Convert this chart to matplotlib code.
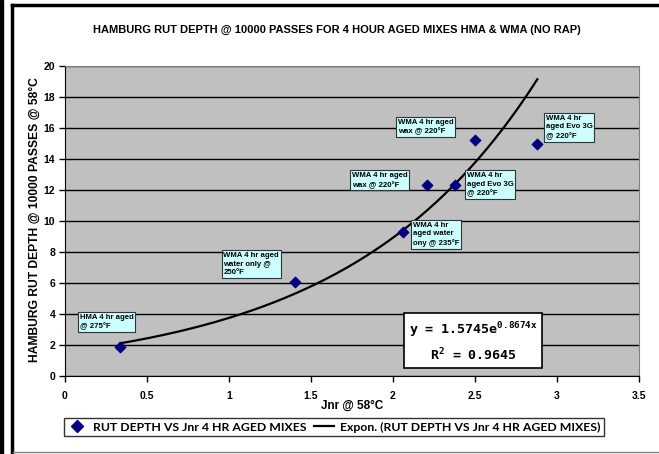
import numpy as np
import matplotlib
matplotlib.use("Agg")
import matplotlib.pyplot as plt
from matplotlib.lines import Line2D
from matplotlib.patches import Rectangle

plt.rcParams['font.family'] = ['Liberation Sans', 'DejaVu Sans']
plt.rcParams['mathtext.fontset'] = 'custom'
plt.rcParams['mathtext.rm'] = 'DejaVu Sans Mono:bold'
plt.rcParams['mathtext.it'] = 'DejaVu Sans Mono:bold'

# data
jnr = [0.335, 1.40, 2.06, 2.21, 2.38, 2.50, 2.88]
rut = [1.87, 6.06, 9.28, 12.3, 12.3, 15.2, 15.0]
labels = ["HMA 4 hr aged\n@ 275°F",
          "WMA 4 hr aged\nwater only @\n250°F",
          "WMA 4 hr\naged water\nony @ 235°F",
          "WMA 4 hr aged\nwax @ 220°F",
          "WMA 4 hr\naged Evo 3G\n@ 220°F",
          "WMA 4 hr aged\nwax @ 220°F",
          "WMA 4 hr\naged Evo 3G\n@ 220°F"]
# where the label boxes sit (top-left corner, data units)
label_pos = [(0.09, 4.0), (0.965, 8.0), (2.12, 9.95), (1.75, 13.15),
             (2.45, 13.15), (2.03, 16.6), (2.93, 16.85)]
fit_a, fit_b = 1.5745, 0.8674
r2 = 0.9645

fig = plt.figure(figsize=(6.59, 4.54), dpi=100)
ax = fig.add_axes([65/659, 1-376/454, 574/659, 310/454])
ax.set_facecolor('#c0c0c0')

# exponential trendline over the data range
xf = np.linspace(min(jnr), max(jnr), 200)
ax.plot(xf, fit_a*np.exp(fit_b*xf), color='black', lw=1.6, zorder=3)
ax.scatter(jnr, rut, marker='D', s=28, color='#000080', zorder=4)

for txt, (lx, ly) in zip(labels, label_pos):
    ax.text(lx, ly, txt, ha='left', va='top', fontsize=5.6, fontweight='bold',
            linespacing=1.3, zorder=5,
            bbox=dict(boxstyle='square,pad=0.22', fc='#ccffff', ec='#333333', lw=0.8))

ax.text(0.711, 0.11, "y = 1.5745e$^{0.8674x}$\nR$^2$ = 0.9645", transform=ax.transAxes,
        ha='center', va='center', fontsize=9.5, fontweight='bold',
        family='DejaVu Sans Mono', linespacing=1.45, zorder=5,
        bbox=dict(boxstyle='square,pad=0.38', fc='white', ec='black', lw=1.2))

ax.set_xlim(0, 3.5)
ax.set_ylim(0, 20)
ax.set_xticks(np.arange(0, 3.51, 0.5))
ax.set_xticklabels(['0', '0.5', '1', '1.5', '2', '2.5', '3', '3.5'])
ax.set_yticks(np.arange(0, 21, 2))
ax.yaxis.grid(True, color='black', lw=1.0)
ax.set_axisbelow(True)
ax.tick_params(labelsize=7.5, length=4, color='black', width=1)
for lab in ax.get_xticklabels() + ax.get_yticklabels():
    lab.set_fontweight('bold')
ax.tick_params(axis='x', pad=7)
ax.tick_params(axis='y', pad=3)
for s in ['top', 'right']:
    ax.spines[s].set_color('#808080')
ax.spines['left'].set_color('black')
ax.spines['bottom'].set_color('black')

fig.text(352/659, 1-406/454, 'Jnr @ 58°C', ha='center', va='center', fontsize=8.5, fontweight='bold')
fig.text(35/659, 1-220/454, 'HAMBURG RUT DEPTH @ 10000 PASSES @ 58°C', ha='center', va='center',
         rotation=90, fontsize=8.7, fontweight='bold')
fig.text(337/659, 1-30/454, 'HAMBURG RUT DEPTH @ 10000 PASSES FOR 4 HOUR AGED MIXES HMA & WMA (NO RAP)',
         ha='center', va='center', fontsize=8, fontweight='bold')

handles = [Line2D([], [], marker='D', ls='none', color='#000080', markersize=6),
           Line2D([], [], color='black', lw=1.6)]
leg = fig.legend(handles, ['RUT DEPTH VS Jnr 4 HR AGED MIXES', 'Expon. (RUT DEPTH VS Jnr 4 HR AGED MIXES)'],
                 loc='center', bbox_to_anchor=(334/659, 1-427/454), ncol=2, frameon=True,
                 fancybox=False, edgecolor='black', handlelength=1.6, columnspacing=0.6,
                 handletextpad=0.5, borderpad=0.3, prop={'family': 'Lato', 'weight': 'bold', 'size': 8.8})
leg.get_frame().set_linewidth(1.0)

# outer chart frame
fig.add_artist(Rectangle((0, 0), 3/659, 1, transform=fig.transFigure, color='black'))
fig.add_artist(Line2D([12/659, 12/659], [0, 1-5/454], transform=fig.transFigure, color='black', lw=2.5))
fig.add_artist(Line2D([12/659, 1], [1-5/454, 1-5/454], transform=fig.transFigure, color='black', lw=2.5))
fig.add_artist(Line2D([13/659, 1], [1-452/454, 1-452/454], transform=fig.transFigure, color='#808080', lw=1))

fig.savefig('out.png', dpi=100)
